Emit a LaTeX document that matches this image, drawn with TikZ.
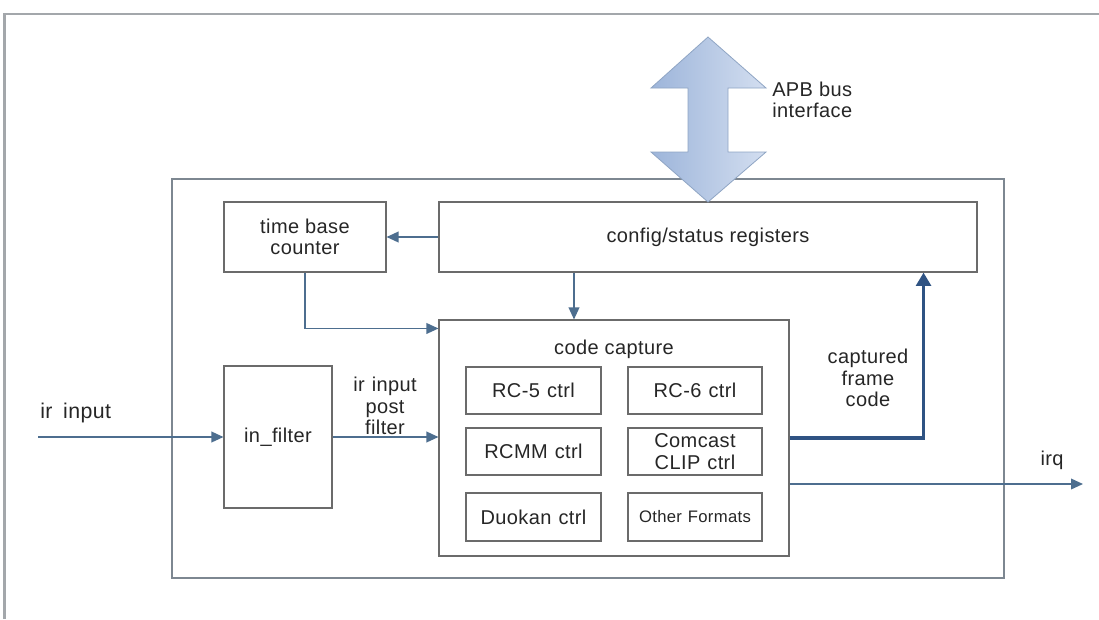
\documentclass[tikz,border=0pt]{standalone}
\usepackage{fontspec}
\setmainfont{Liberation Sans}[LetterSpace=2]
\usetikzlibrary{arrows.meta,fit}

\definecolor{boxline}{HTML}{6B6B6B}
\definecolor{frameline}{HTML}{A3A7AB}
\definecolor{blockline}{HTML}{7D8791}
\definecolor{wire}{HTML}{4D6E8F}
\definecolor{busline}{HTML}{2F5383}
\definecolor{txt}{HTML}{262626}
\definecolor{apbL}{HTML}{9DB5DA}
\definecolor{apbR}{HTML}{D3DEF0}
\definecolor{apbEdge}{HTML}{8FA5C4}

\newcommand{\wsp}{\hspace{0.35em}}

\tikzset{
  lbl/.style={font=\fontsize{15}{16}\selectfont, text=txt, align=center, inner sep=0pt},
  box/.style={draw=boxline, line width=0.8pt, inner sep=0pt},
  block/.style={draw=blockline, line width=0.9pt, inner sep=0pt},
  wirearrow/.style={draw=wire, line width=1.1pt, -{Triangle[length=9pt,width=8pt]}},
  busarrow/.style={draw=busline, line width=2.8pt, -{Triangle[length=10pt,width=11pt]}},
}

\begin{document}
\begin{tikzpicture}[x=0.75pt,y=-0.75pt]
\useasboundingbox (0,0) rectangle (1099,619);
\fill[white] (0,0) rectangle (1099,619);

% outer frame (left and top edges)
\draw[frameline, line width=1.6pt] (4.5,619) -- (4.5,14) -- (1099,14);

% IR block
\node[block, fit={(172,179) (1004,578)}] (ir) {};

% register and timing boxes
\node[box, fit={(224,202) (386,272)}] (tb) {};
\node[lbl] at (tb.center) {time base\\counter};
\node[box, fit={(439,202) (977,272)}] (cfg) {};
\node[lbl] at (cfg.center) {config/status registers};

% input filter
\node[box, fit={(224,366) (332,508)}] (inf) {};
\node[lbl] at (inf.center) {in\_filter};

% code capture with its decoders
\node[box, fit={(439,320) (789,556)}] (cc) {};
\node[lbl] (cct) at (614,349) {code capture};
\node[box, fit={(466,367) (601,414)}] (rc5) {};
\node[lbl] at (rc5.center) {RC-5\wsp ctrl};
\node[box, fit={(628,367) (762,414)}] (rc6) {};
\node[lbl] at (rc6.center) {RC-6\wsp ctrl};
\node[box, fit={(466,428) (601,475)}] (rcmm) {};
\node[lbl] at (rcmm.center) {RCMM\wsp ctrl};
\node[box, fit={(628,428) (762,475)}] (clip) {};
\node[lbl] at (clip.center) {Comcast\\CLIP\wsp ctrl};
\node[box, fit={(466,493) (601,541)}] (duo) {};
\node[lbl] at (duo.center) {Duokan\wsp ctrl};
\node[box, fit={(628,493) (762,541)}] (oth) {};
\node[lbl, font=\fontsize{12.5}{14}\selectfont] at (oth.center) {Other\wsp Formats};

% APB bus double arrow
\shade[left color=apbL, right color=apbR, draw=apbEdge, line width=0.6pt]
  (708,37) -- (766,88) -- (728,88) -- (728,152) -- (766,152) -- (708,202)
  -- (651,152) -- (688,152) -- (688,88) -- (651,88) -- cycle;
\node[lbl, anchor=west, align=left] (apb) at (772,100) {APB bus\\interface};

% free ends of the external signals
\coordinate (irin) at (38,437);
\coordinate (irqout) at (1083,484);

% signal connectors
\draw[wirearrow] (irin) -- (inf.west);
\node[lbl, anchor=west, font=\fontsize{16}{17}\selectfont] (irinl) at (40,413) {ir\hspace{0.5em}input};
\draw[wirearrow] (inf.east) -- (inf.east -| cc.west);
\node[lbl] (pfl) at (385,406) {ir\wsp input\\post\\filter};
\draw[wirearrow] (cfg.west) -- (tb.east);
\draw[wirearrow] ([xshift=-100.5pt]cfg.south) -- ([xshift=-100.5pt]cfg.south |- cc.north);
\draw[wirearrow] (tb.south) |- ([yshift=-6.75pt]cc.north west);
\draw[busarrow] (cc.east) -| ([xshift=-40.5pt]cfg.south east);
\node[lbl] (cfc) at (868,378) {captured\\frame\\code};
\draw[wirearrow] ([yshift=-34.5pt]cc.east) -- (irqout);
\node[lbl] (irql) at (1052,460) {irq};
\end{tikzpicture}
\end{document}
